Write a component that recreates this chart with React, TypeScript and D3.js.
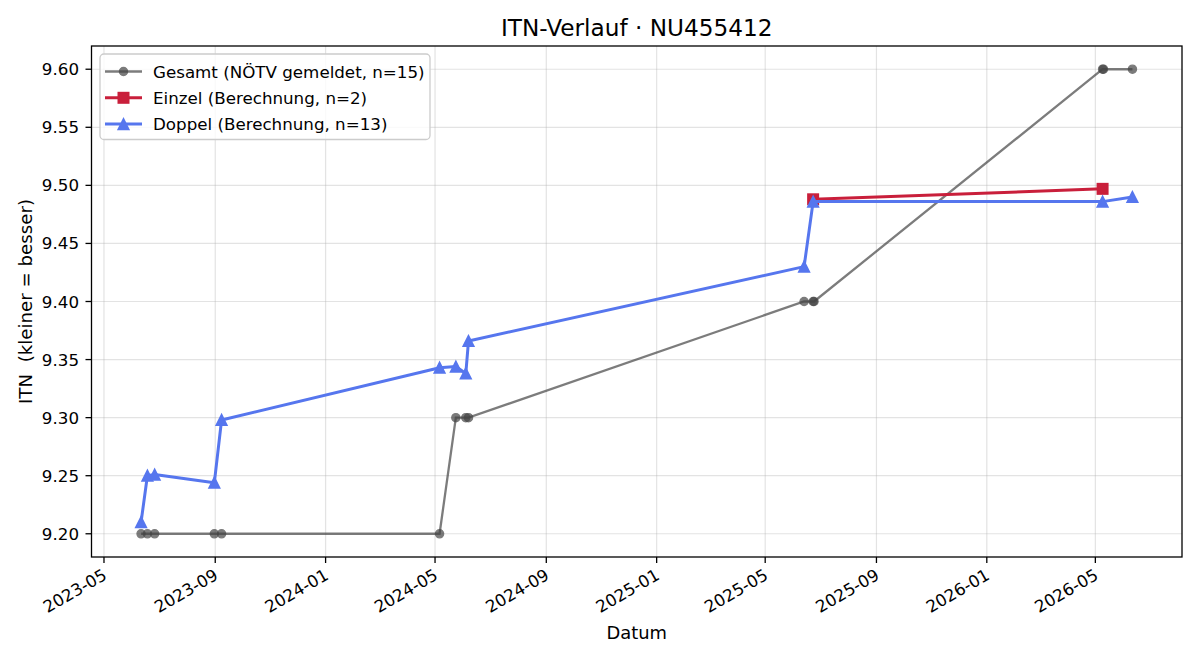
import React from "react";
import * as d3 from "d3";

const W = 1200;
const H = 660;
const margin = { left: 91.5, right: 18, top: 46, bottom: 103 };

// Doppel dates (also the base dates for Gesamt)
const doppelDates = [
  "2023-06-11", "2023-06-18", "2023-06-26", "2023-08-31", "2023-09-08",
  "2024-05-06", "2024-05-24", "2024-06-04", "2024-06-07",
  "2025-06-13", "2025-06-23", "2026-05-09", "2026-06-11",
];
const doppelValues = [
  9.21, 9.25, 9.251, 9.244, 9.298, 9.343, 9.344, 9.338, 9.366,
  9.43, 9.486, 9.486, 9.49,
];

const einzelDates = ["2025-06-23", "2026-05-09"];
const einzelValues = [9.488, 9.497];

const gesamtDates = [
  "2023-06-11", "2023-06-18", "2023-06-26", "2023-08-31", "2023-09-08",
  "2024-05-06", "2024-05-24", "2024-06-04", "2024-06-07",
  "2025-06-13", "2025-06-23", "2025-06-24", "2026-05-09", "2026-05-10", "2026-06-11",
];
const gesamtValues = [
  9.2, 9.2, 9.2, 9.2, 9.2, 9.2, 9.3, 9.3, 9.3,
  9.4, 9.4, 9.4, 9.6, 9.6, 9.6,
];

const yTicks = [9.2, 9.25, 9.3, 9.35, 9.4, 9.45, 9.5, 9.55, 9.6];

const legendLabels = [
  "Gesamt (NÖTV gemeldet, n=15)",
  "Einzel (Berechnung, n=2)",
  "Doppel (Berechnung, n=13)",
];

const GRAY = "#444444";
const RED = "#c91f3b";
const BLUE = "#5676ee";
const FONT = "DejaVu Sans";
const TICK_FS = 16.7;

const parse = d3.utcParse("%Y-%m-%d");

type Pt = { d: Date; v: number };
const toPts = (ds: string[], vs: number[]): Pt[] =>
  ds.map((s, i) => ({ d: parse(s) as Date, v: vs[i] }));

const gesamt = toPts(gesamtDates, gesamtValues);
const einzel = toPts(einzelDates, einzelValues);
const doppel = toPts(doppelDates, doppelValues);

const Triangle = ({ x, y, s, color }: { x: number; y: number; s: number; color: string }) => (
  <path
    d={`M${x},${y - s / 2}L${x - s / 2},${y + s / 2}L${x + s / 2},${y + s / 2}Z`}
    fill={color}
    stroke={color}
    strokeWidth={1.6}
  />
);

const App = () => {
  const x0 = margin.left;
  const x1 = W - margin.right;
  const y0 = margin.top;
  const y1 = H - margin.bottom;

  const all = [...gesamt, ...einzel, ...doppel];
  const [dMin, dMax] = d3.extent(all, (p) => p.d.getTime()) as [number, number];
  const dPad = (dMax - dMin) * 0.05;
  const [vMin, vMax] = d3.extent(all, (p) => p.v) as [number, number];
  const vPad = (vMax - vMin) * 0.05;

  const x = d3.scaleUtc().domain([new Date(dMin - dPad), new Date(dMax + dPad)]).range([x0, x1]);
  const y = d3.scaleLinear().domain([vMin - vPad, vMax + vPad]).range([y1, y0]);

  const xTicks = x.ticks(d3.utcMonth.every(4) as d3.TimeInterval);
  const fmt = d3.utcFormat("%Y-%m");

  const line = d3
    .line<Pt>()
    .x((p) => x(p.d))
    .y((p) => y(p.v));

  return (
    <div style={{ position: "fixed", left: 0, top: 0 }}>
      <svg width={W} height={H} style={{ display: "block", background: "#fff" }} fontFamily={FONT}>
        <rect x={0} y={0} width={W} height={H} fill="#fff" />
        {/* grid */}
        {xTicks.map((t, i) => (
          <line key={"gx" + i} x1={x(t)} x2={x(t)} y1={y0} y2={y1} stroke="#b0b0b0" strokeOpacity={0.35} strokeWidth={1.2} />
        ))}
        {yTicks.map((t, i) => (
          <line key={"gy" + i} x1={x0} x2={x1} y1={y(t)} y2={y(t)} stroke="#b0b0b0" strokeOpacity={0.35} strokeWidth={1.2} />
        ))}

        {/* Gesamt */}
        <path d={line(gesamt) ?? ""} fill="none" stroke={GRAY} strokeOpacity={0.7} strokeWidth={2.3} />
        {gesamt.map((p, i) => (
          <circle key={"g" + i} cx={x(p.d)} cy={y(p.v)} r={4.1} fill={GRAY} stroke={GRAY} strokeWidth={1.3} opacity={0.7} />
        ))}

        {/* Einzel */}
        <path d={line(einzel) ?? ""} fill="none" stroke={RED} strokeWidth={3} />
        {einzel.map((p, i) => (
          <rect key={"e" + i} x={x(p.d) - 5.2} y={y(p.v) - 5.2} width={10.4} height={10.4} fill={RED} stroke={RED} strokeWidth={1.6} />
        ))}

        {/* Doppel */}
        <path d={line(doppel) ?? ""} fill="none" stroke={BLUE} strokeWidth={3} strokeLinejoin="round" />
        {doppel.map((p, i) => (
          <Triangle key={"d" + i} x={x(p.d)} y={y(p.v)} s={10.6} color={BLUE} />
        ))}

        {/* frame */}
        <rect x={x0} y={y0} width={x1 - x0} height={y1 - y0} fill="none" stroke="#000" strokeWidth={1.3} />

        {/* x axis */}
        {xTicks.map((t, i) => (
          <g key={"xt" + i} transform={`translate(${x(t)},${y1})`}>
            <line y1={0} y2={6} stroke="#000" strokeWidth={1.3} />
            <text
              transform="translate(-2,11) rotate(-30)"
              textAnchor="end"
              dy="0.72em"
              fontSize={TICK_FS}
              fill="#000"
            >
              {fmt(t)}
            </text>
          </g>
        ))}
        {/* y axis */}
        {yTicks.map((t, i) => (
          <g key={"yt" + i} transform={`translate(${x0},${y(t)})`}>
            <line x1={0} x2={-6} stroke="#000" strokeWidth={1.3} />
            <text x={-12.5} dy="0.36em" textAnchor="end" fontSize={TICK_FS} fill="#000">
              {t.toFixed(2)}
            </text>
          </g>
        ))}

        {/* labels */}
        <text x={(x0 + x1) / 2} y={639} textAnchor="middle" fontSize={17.9} fill="#000">
          Datum
        </text>
        <text
          transform={`translate(32,${(y0 + y1) / 2}) rotate(-90)`}
          textAnchor="middle"
          fontSize={18.2}
          fill="#000"
          style={{ whiteSpace: "pre" }}
        >
          {"ITN  (kleiner = besser)"}
        </text>
        <text x={(x0 + x1) / 2} y={36} textAnchor="middle" fontSize={23.2} fill="#000">
          ITN-Verlauf · NU455412
        </text>

        {/* legend */}
        <g>
          <rect x={100} y={54} width={330} height={85.5} rx={4} fill="#fff" fillOpacity={0.8} stroke="#cccccc" strokeWidth={1.3} />
          {legendLabels.map((lab, i) => {
            const ly = 71.5 + i * 26.3;
            const color = i === 0 ? GRAY : i === 1 ? RED : BLUE;
            return (
              <g key={"lg" + i}>
                <line x1={105} x2={142} y1={ly} y2={ly} stroke={color} strokeOpacity={i === 0 ? 0.7 : 1} strokeWidth={i === 0 ? 2.3 : 3} />
                {i === 0 && <circle cx={123.5} cy={ly} r={4.1} fill={GRAY} stroke={GRAY} strokeWidth={1.3} opacity={0.7} />}
                {i === 1 && <rect x={118.3} y={ly - 5.2} width={10.4} height={10.4} fill={RED} stroke={RED} strokeWidth={1.6} />}
                {i === 2 && <Triangle x={123.5} y={ly} s={10.6} color={BLUE} />}
                <text x={153} y={ly} dy="0.36em" fontSize={TICK_FS} fill="#000">
                  {lab}
                </text>
              </g>
            );
          })}
        </g>
      </svg>
    </div>
  );
};

export default App;
